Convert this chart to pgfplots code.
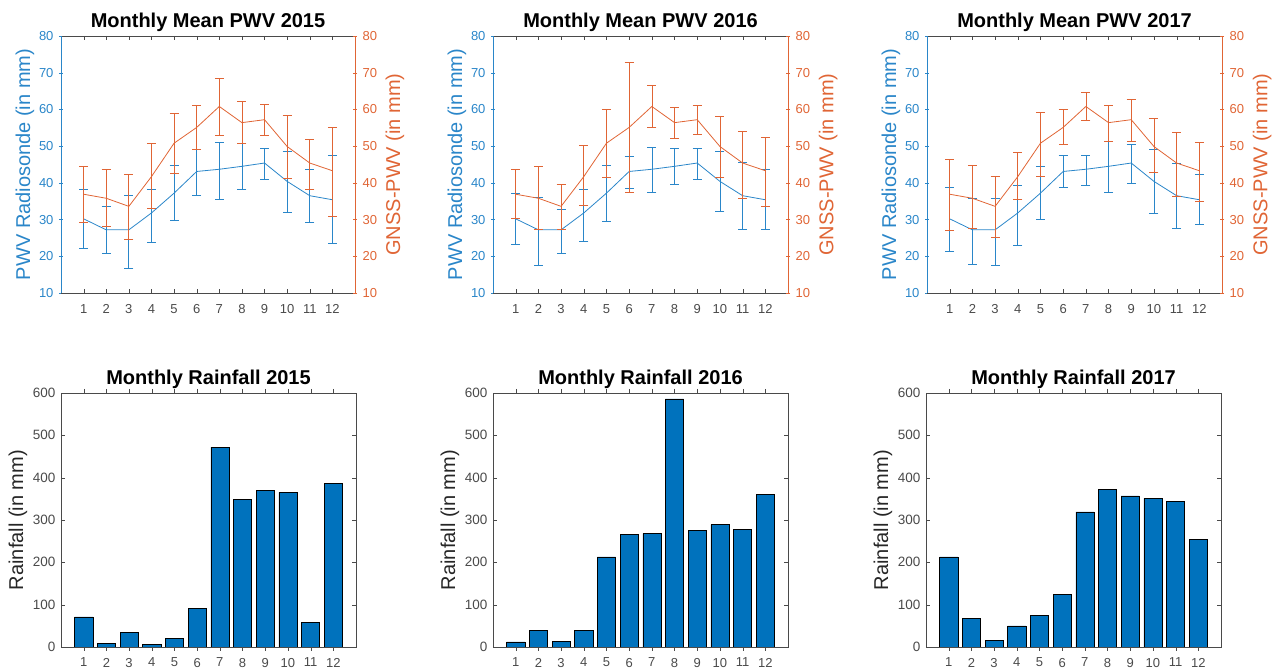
\documentclass[border=0pt]{standalone}
\usepackage{fontspec}
\setmainfont{Liberation Sans}
\usepackage{pgfplots}
\pgfplotsset{compat=1.18}
\usepackage{pgfplotstable}
\definecolor{mblue}{HTML}{0072BD}
\definecolor{lblue}{HTML}{2A86C9}
\definecolor{morange}{HTML}{E06535}
\definecolor{agray}{HTML}{4A4A4A}

\pgfplotstableread{
m b blo bhi o olo ohi
1 30.2 22.2 38.3 36.9 29.3 44.5
2 27.2 20.7 33.6 35.8 28.1 43.7
3 27.2 16.8 36.7 33.6 24.7 42.3
4 31.8 23.9 38.3 41.7 33.0 50.8
5 37.2 29.8 44.9 50.8 42.5 58.8
6 43.1 36.7 49.1 55.1 49.1 61.1
7 43.7 35.6 51.1 60.8 52.9 68.4
8 44.5 38.1 50.8 56.4 50.8 62.1
9 45.4 41.0 49.4 57.2 52.9 61.5
10 40.4 32.0 48.7 49.9 41.2 58.4
11 36.5 29.2 43.6 45.4 38.1 51.9
12 35.4 23.4 47.6 43.3 30.9 55.2
}\tA
\pgfplotstableread{
m b blo bhi o olo ohi
1 30.2 23.2 37.2 36.9 30.2 43.6
2 27.2 17.6 36.0 35.8 27.4 44.5
3 27.2 20.7 32.9 33.6 27.2 39.7
4 31.8 24.2 38.3 41.7 33.8 50.2
5 37.2 29.5 44.8 50.8 41.6 59.9
6 43.1 38.6 47.2 55.1 37.4 72.7
7 43.7 37.4 49.8 60.8 55.1 66.6
8 44.5 39.5 49.4 56.4 52.2 60.6
9 45.4 41.0 49.4 57.2 53.3 61.0
10 40.4 32.2 48.5 49.9 41.6 58.2
11 36.5 27.2 45.5 45.4 35.8 53.9
12 35.4 27.2 43.7 43.3 33.6 52.5
}\tB
\pgfplotstableread{
m b blo bhi o olo ohi
1 30.2 21.3 38.8 36.9 27.1 46.5
2 27.2 17.9 35.8 35.8 27.7 44.7
3 27.2 17.5 35.8 33.6 25.2 41.7
4 31.8 22.9 39.2 41.7 35.6 48.3
5 37.2 30.0 44.5 50.8 41.7 59.2
6 43.1 38.7 47.4 55.1 50.5 59.9
7 43.7 39.2 47.6 60.8 57.0 64.6
8 44.5 37.4 51.3 56.4 51.3 61.2
9 45.4 39.9 50.5 57.2 51.4 62.8
10 40.4 31.6 49.0 49.9 42.8 57.6
11 36.5 27.6 45.4 45.4 36.3 53.7
12 35.4 28.6 42.4 43.3 35.0 51.1
}\tC

\pgfplotsset{
  common/.style={scale only axis, anchor=south west, xmin=0, xmax=13, xtick={1,...,12},
    /pgf/number format/assume math mode=true,
    tick align=inside, major tick length=4pt,
    title style={font=\bfseries\fontsize{20}{24}\selectfont, at={(axis description cs:0.5,1)}, anchor=base, yshift=2.5pt},
    xticklabel style={font=\fontsize{13}{15}\selectfont, text=agray, yshift=-8pt}},
  pwvL/.style={common, ymin=10, ymax=80, ytick={10,20,...,80},
    axis x line=box, axis y line=left,
    x axis line style={agray, -}, y axis line style={lblue, -, line width=0.8pt},
    xtick style={agray}, ytick style={lblue},
    yticklabel style={font=\fontsize{13}{15}\selectfont, text=lblue, xshift=-2pt},
    ylabel={PWV Radiosonde (in mm)},
    ylabel style={font=\fontsize{20}{24}\selectfont, text=lblue, at={(axis description cs:-0.1225,0.5)}, anchor=center}},
  pwvR/.style={common, ymin=10, ymax=80, ytick={10,20,...,80},
    axis x line=none, axis y line=right, xtick=\empty,
    y axis line style={morange, -, line width=0.8pt}, ytick style={morange},
    yticklabel style={font=\fontsize{13}{15}\selectfont, text=morange, xshift=2pt},
    ylabel={GNSS-PWV (in mm)},
    ylabel style={font=\fontsize{20}{24}\selectfont, text=morange, at={(axis description cs:1.136,0.5)}, anchor=center}},
  rain/.style={common, ymin=0, ymax=600, ytick={0,100,...,600},
    axis line style={agray}, tick style={agray},
    yticklabel style={font=\fontsize{13.5}{15}\selectfont, text=agray, xshift=-2pt},
    xticklabel style={yshift=4.5pt},
    ylabel={Rainfall (in mm)},
    ylabel style={font=\fontsize{20}{24}\selectfont, text=black!85, at={(axis description cs:-0.146,0.5)}, anchor=center},
    ybar, bar width=0.8},
  bseries/.style={lblue, line width=0.8pt, mark=none,
    error bars/.cd, y dir=both, y explicit, error mark=-,
    error bar style={lblue, line width=0.7pt},
    error mark options={rotate=90, lblue, mark size=4.5pt, line width=0.7pt}},
  oseries/.style={morange, line width=0.8pt, mark=none,
    error bars/.cd, y dir=both, y explicit, error mark=-,
    error bar style={morange, line width=0.7pt},
    error mark options={rotate=90, morange, mark size=4.5pt, line width=0.7pt}},
  bars/.style={fill=mblue, draw=black, line width=0.5pt}
}

\newcommand{\pwvpair}[4]{%
  \begin{axis}[pwvL, at={(#1pt,375pt)}, width=#2pt, height=257pt, title={Monthly Mean PWV #3}]
    \addplot[bseries] table[x=m, y=b, y error plus expr=\thisrow{bhi}-\thisrow{b}, y error minus expr=\thisrow{b}-\thisrow{blo}] {#4};
  \end{axis}
  \begin{axis}[pwvR, at={(#1pt,375pt)}, width=#2pt, height=257pt]
    \addplot[oseries] table[x=m, y=o, y error plus expr=\thisrow{ohi}-\thisrow{o}, y error minus expr=\thisrow{o}-\thisrow{olo}] {#4};
  \end{axis}}

\begin{document}
\begin{tikzpicture}
\path[use as bounding box] (0,0) rectangle (1276pt,668pt);
\pwvpair{61}{294}{2015}{\tA}
\pwvpair{493}{295}{2016}{\tB}
\pwvpair{927}{295}{2017}{\tC}

\begin{axis}[rain, at={(61pt,21pt)}, width=295pt, height=254pt, title={Monthly Rainfall 2015}]
  \addplot[bars] coordinates {(1,71) (2,8) (3,35) (4,6) (5,21) (6,91) (7,472) (8,349) (9,370) (10,365) (11,59) (12,387)};
\end{axis}
\begin{axis}[rain, at={(493pt,21pt)}, width=295pt, height=254pt, title={Monthly Rainfall 2016}]
  \addplot[bars] coordinates {(1,12) (2,40) (3,13) (4,39) (5,213) (6,266) (7,268) (8,586) (9,276) (10,289) (11,277) (12,361)};
\end{axis}
\begin{axis}[rain, at={(926pt,21pt)}, width=295pt, height=254pt, title={Monthly Rainfall 2017}]
  \addplot[bars] coordinates {(1,213) (2,67) (3,16) (4,50) (5,75) (6,124) (7,319) (8,372) (9,357) (10,351) (11,344) (12,254)};
\end{axis}
\end{tikzpicture}
\end{document}
